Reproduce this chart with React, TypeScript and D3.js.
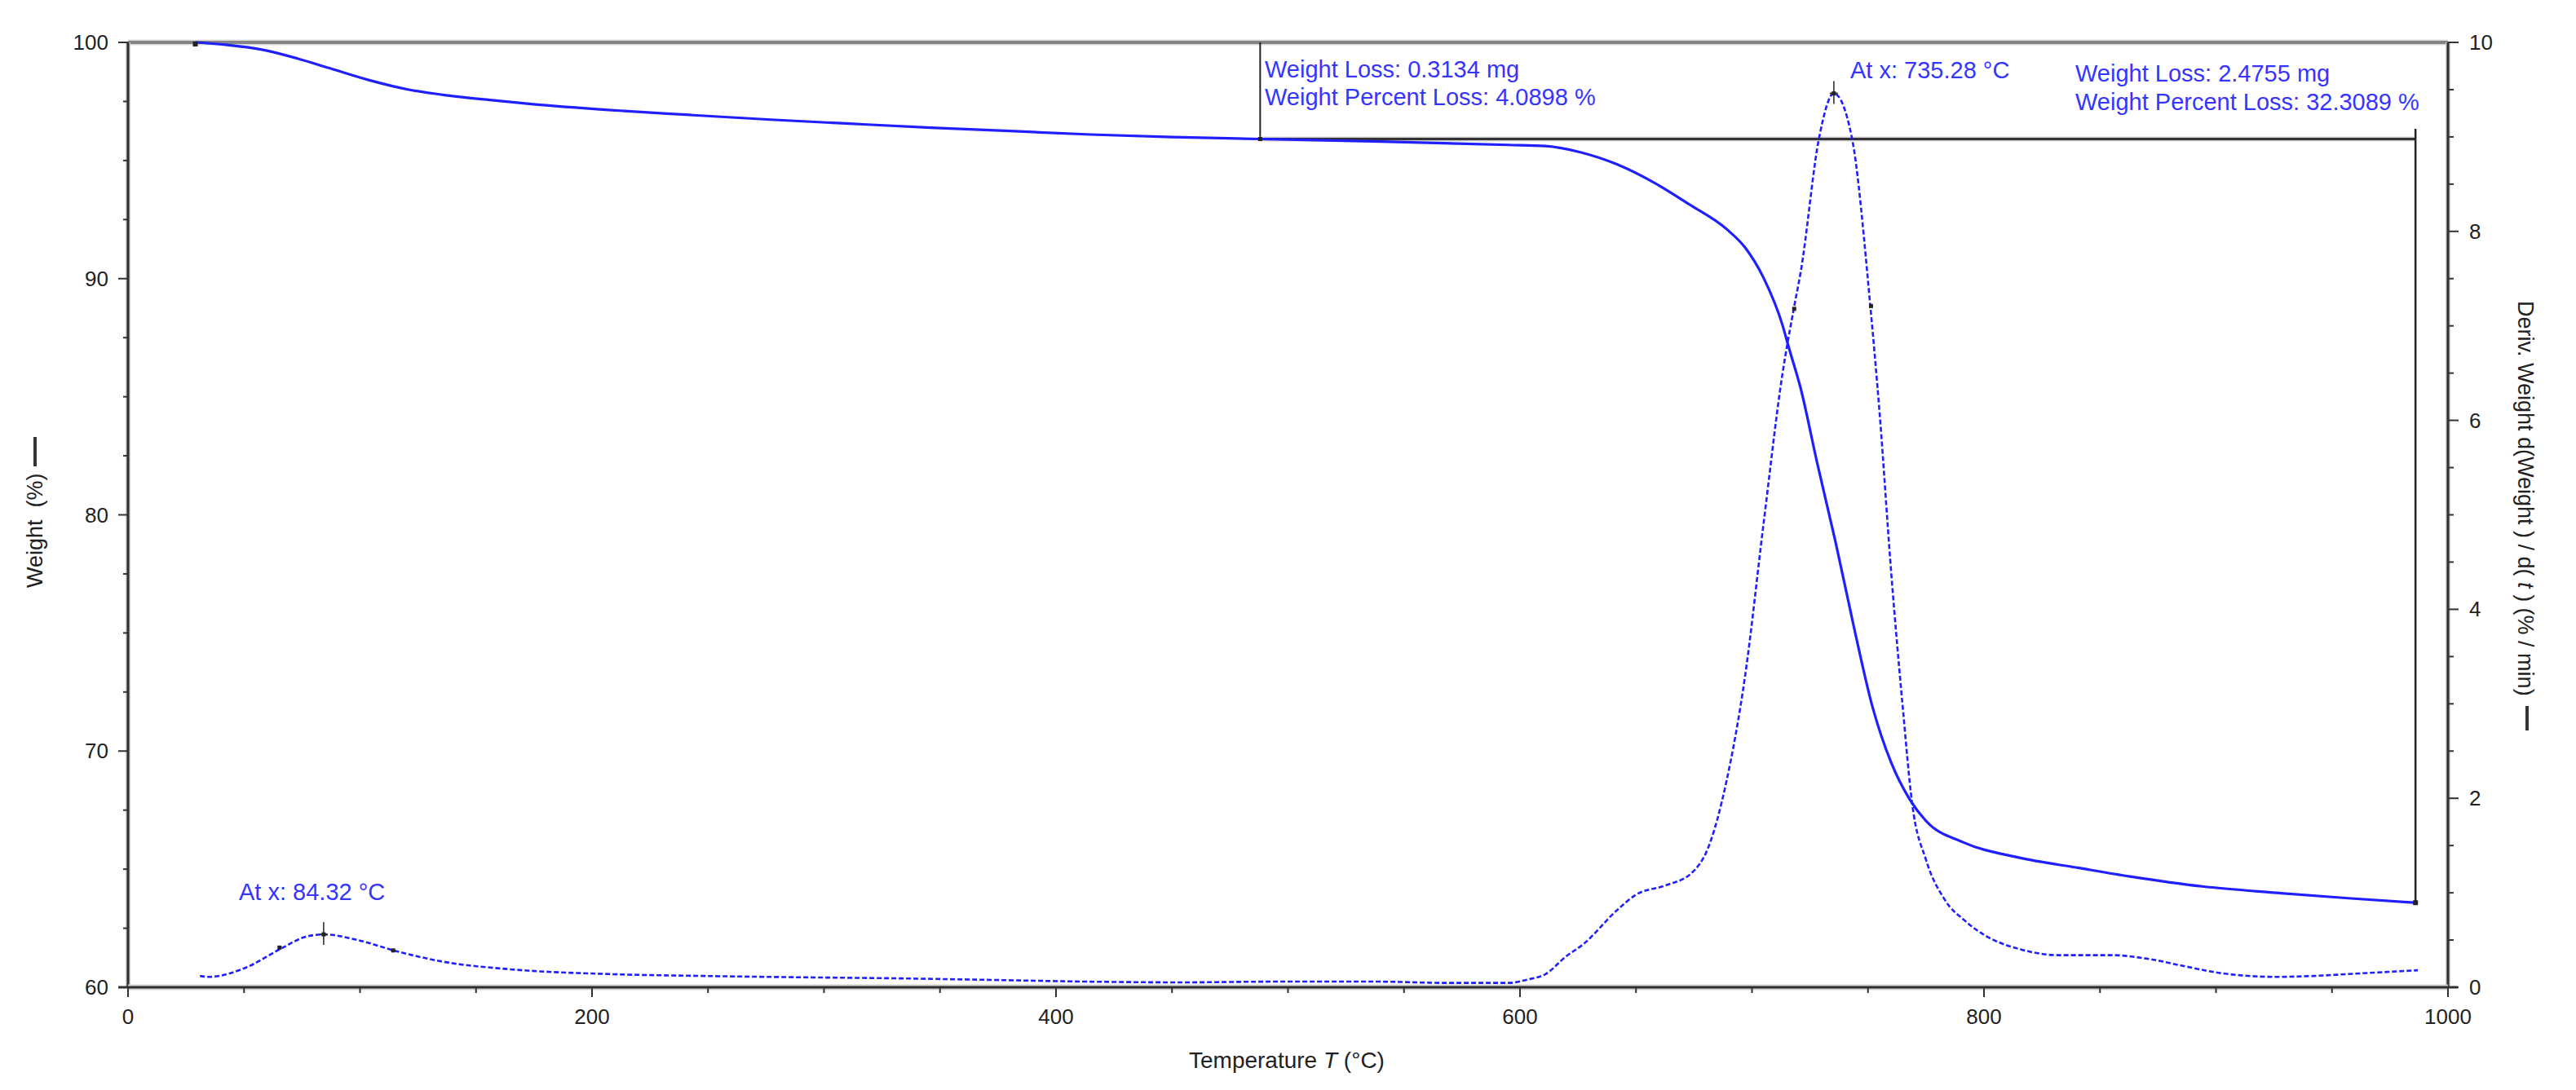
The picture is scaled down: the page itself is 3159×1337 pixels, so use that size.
import React from 'react';
import * as d3 from 'd3';

// ---- data ----
const tempW = [29, 42, 59, 73, 86.5, 104, 121, 138, 156, 173, 207, 242, 277, 311, 346, 380, 415, 450, 488, 540, 595, 611, 626, 642, 658, 673, 689, 697, 705, 713, 716, 721, 728, 736, 744, 752, 760, 768, 775, 791, 815, 841, 863, 894, 926, 957, 986];
const weightPct = [100, 99.9, 99.67, 99.32, 98.92, 98.4, 98.0, 97.75, 97.56, 97.4, 97.14, 96.93, 96.73, 96.56, 96.39, 96.25, 96.1, 95.99, 95.91, 95.8, 95.66, 95.61, 95.35, 94.83, 94.05, 93.14, 92.1, 91.32, 90.03, 88.08, 87.04, 85.35, 82.24, 78.86, 75.22, 71.85, 69.51, 67.95, 67.04, 66.14, 65.49, 65.05, 64.69, 64.27, 64.0, 63.77, 63.58];

const tempD = [31, 35, 50, 66, 76, 84.32, 99, 116, 136, 165, 207, 248, 289, 330, 372, 413, 454, 496, 537, 570, 595, 603, 611, 620, 627, 642, 650, 663, 674, 681, 689, 697, 705, 713, 718, 721, 729, 735.28, 743, 751, 755, 760, 765, 769, 775, 783, 792, 800, 816, 832, 855, 871, 887, 902, 926, 942, 957, 987];
const derivRate = [0.12, 0.11, 0.2, 0.41, 0.53, 0.56, 0.5, 0.38, 0.27, 0.19, 0.14, 0.12, 0.106, 0.095, 0.078, 0.06, 0.052, 0.06, 0.06, 0.046, 0.046, 0.08, 0.14, 0.33, 0.45, 0.82, 0.98, 1.08, 1.21, 1.47, 2.18, 3.29, 4.91, 6.47, 7.18, 7.57, 9.0, 9.46, 9.0, 7.21, 6.08, 4.39, 2.96, 1.95, 1.35, 0.93, 0.7, 0.555, 0.4, 0.34, 0.34, 0.3, 0.22, 0.15, 0.11, 0.12, 0.14, 0.18];

const xTickValues = [0, 200, 400, 600, 800, 1000];
const yLeftTickValues = [60, 70, 80, 90, 100];
const yRightTickValues = [0, 2, 4, 6, 8, 10];

const peakTemps = [84.32, 735.28];
const peakRates = [0.56, 9.46];
const halfTemps = [65.3, 114.3, 718.2, 751.3];
const halfRates = [0.42, 0.39, 7.18, 7.21];

const stepStartT = 488;
const stepLevelW = 95.91;
const stepEndT = 986;
const stepEndW = 63.58;
const stepTopW = 96.34;

const BLUE = '#1f1fff';
const TEXT_BLUE = '#3535ff';
const FONT = '"Liberation Sans", Arial, Helvetica, sans-serif';

export default function App() {
  const W = 3159, H = 1337;
  const L = 157, R = 3002, T = 52, B = 1211;
  const x = d3.scaleLinear().domain([0, 1000]).range([L, R]);
  const yW = d3.scaleLinear().domain([60, 100]).range([B, T]);
  const yD = d3.scaleLinear().domain([0, 10]).range([B, T]);

  const weightLine = d3.line<number>()
    .x((_, i) => x(tempW[i]))
    .y((d) => yW(d))
    .curve(d3.curveMonotoneX);
  const derivLine = d3.line<number>()
    .x((_, i) => x(tempD[i]))
    .y((d) => yD(d))
    .curve(d3.curveMonotoneX);

  const xMinor = d3.range(0, 1001, 50).filter((v) => v % 200 !== 0);
  const yLMinor = d3.range(60, 100.01, 2.5).filter((v) => v % 10 !== 0);
  const yRMinor = d3.range(0, 10.01, 0.5).filter((v) => Math.abs(v % 2) > 1e-6);

  const tickFont = 26;
  const annFont = 29;

  return (
    <svg width={W} height={H} style={{ position: 'absolute', left: 0, top: 0, background: '#fff' }} fontFamily={FONT}>
      <rect x={0} y={0} width={W} height={H} fill="#fff" />

      {/* frame with halo */}
      <g>
        <line x1={L} x2={R} y1={T} y2={T} stroke="#dcdcdc" strokeWidth={7} />
        <line x1={L} x2={R} y1={T} y2={T} stroke="#858585" strokeWidth={4} />
        <line x1={L} x2={L} y1={T} y2={B} stroke="#cfcfcf" strokeWidth={6} />
        <line x1={L} x2={L} y1={T} y2={B} stroke="#2e2e2e" strokeWidth={3} />
        <line x1={R} x2={R} y1={T} y2={B} stroke="#cfcfcf" strokeWidth={6} />
        <line x1={R} x2={R} y1={T} y2={B} stroke="#2e2e2e" strokeWidth={3} />
        <line x1={L} x2={R} y1={B} y2={B} stroke="#cfcfcf" strokeWidth={7} />
        <line x1={L - 12} x2={R + 12} y1={B} y2={B} stroke="#2e2e2e" strokeWidth={3} />
      </g>

      {/* bottom ticks */}
      <g stroke="#333" strokeWidth={2}>
        {xTickValues.map((v) => (
          <line key={'xt' + v} x1={x(v)} x2={x(v)} y1={B} y2={B + 12} />
        ))}
        {xMinor.map((v) => (
          <line key={'xm' + v} x1={x(v)} x2={x(v)} y1={B} y2={B + 7} />
        ))}
      </g>
      <g fontSize={tickFont} fill="#222" textAnchor="middle">
        {xTickValues.map((v) => (
          <text key={'xl' + v} x={x(v)} y={1256}>{v}</text>
        ))}
      </g>

      {/* left ticks */}
      <g stroke="#333" strokeWidth={2}>
        {yLeftTickValues.map((v) => (
          <line key={'yl' + v} x1={L - 12} x2={L} y1={yW(v)} y2={yW(v)} />
        ))}
        {yLMinor.map((v) => (
          <line key={'ylm' + v} x1={L - 6} x2={L} y1={yW(v)} y2={yW(v)} />
        ))}
      </g>
      <g fontSize={tickFont} fill="#222" textAnchor="end">
        {yLeftTickValues.map((v) => (
          <text key={'yll' + v} x={133} y={yW(v) + 9}>{v}</text>
        ))}
      </g>

      {/* right ticks */}
      <g stroke="#333" strokeWidth={2}>
        {yRightTickValues.map((v) => (
          <line key={'yr' + v} x1={R} x2={R + 13} y1={yD(v)} y2={yD(v)} />
        ))}
        {yRMinor.map((v) => (
          <line key={'yrm' + v} x1={R} x2={R + 7} y1={yD(v)} y2={yD(v)} />
        ))}
      </g>
      <g fontSize={tickFont} fill="#222" textAnchor="start">
        {yRightTickValues.map((v) => (
          <text key={'yrl' + v} x={3028} y={yD(v) + 9}>{v}</text>
        ))}
      </g>

      {/* axis titles */}
      <text x={1458} y={1310} fontSize={28} fill="#222">
        Temperature <tspan fontStyle="italic">T</tspan> (°C)
      </text>
      <text transform="translate(52,721) rotate(-90)" fontSize={27} fill="#222">
        {'Weight\u00a0\u00a0(%)'}
      </text>
      <line x1={43} x2={43} y1={572} y2={536} stroke="#333" strokeWidth={4} />
      <text transform="translate(3088,369) rotate(90)" fontSize={27} fill="#222">
        {'Deriv. Weight d(Weight ) / d( '}<tspan fontStyle="italic">t</tspan>{' ) (% / min)'}
      </text>
      <line x1={3099} x2={3099} y1={866} y2={896} stroke="#333" strokeWidth={4} />

      {/* step transition bracket */}
      <g>
        <line x1={x(stepStartT)} x2={x(stepStartT)} y1={T} y2={yW(stepLevelW)} stroke="#222" strokeWidth={2} />
        <line x1={x(stepStartT)} x2={x(stepEndT)} y1={yW(stepLevelW)} y2={yW(stepLevelW)} stroke="#cfcfcf" strokeWidth={6} />
        <line x1={x(stepStartT)} x2={x(stepEndT)} y1={yW(stepLevelW)} y2={yW(stepLevelW)} stroke="#333" strokeWidth={3} />
        <line x1={x(stepEndT)} x2={x(stepEndT)} y1={yW(stepTopW)} y2={yW(stepEndW)} stroke="#222" strokeWidth={2.5} />
      </g>

      {/* curves */}
      <path d={weightLine(weightPct) || ''} fill="none" stroke={BLUE} strokeWidth={3.2} strokeLinejoin="round" />
      <path d={derivLine(derivRate) || ''} fill="none" stroke={BLUE} strokeWidth={2.6} strokeDasharray="6,3" />

      {/* markers */}
      <rect x={x(tempW[0]) - 3} y={yW(weightPct[0]) - 1} width={6} height={6} fill="#222" />
      <rect x={x(stepStartT) - 2.5} y={yW(stepLevelW) - 2.5} width={5} height={5} fill="#222" />
      <rect x={x(stepEndT) - 3} y={yW(stepEndW) - 3} width={6} height={6} fill="#222" />
      {halfTemps.map((t, i) => (
        <rect key={'hm' + i} x={x(t) - 2.5} y={yD(halfRates[i]) - 2.5} width={5} height={5} fill="#222" />
      ))}
      {peakTemps.map((t, i) => (
        <g key={'pk' + i} stroke="#333">
          <line x1={x(t)} x2={x(t)} y1={yD(peakRates[i]) - 15} y2={yD(peakRates[i]) + 13} strokeWidth={1.6} />
          <line x1={x(t) - 5} x2={x(t) + 5} y1={yD(peakRates[i])} y2={yD(peakRates[i])} strokeWidth={2} />
          <rect x={x(t) - 2.5} y={yD(peakRates[i]) - 2.5} width={5} height={5} fill="#222" stroke="none" />
        </g>
      ))}

      {/* annotations */}
      <g fontSize={annFont} fill={TEXT_BLUE}>
        <text x={1551} y={95}>Weight Loss: 0.3134 mg</text>
        <text x={1551} y={129}>Weight Percent Loss: 4.0898 %</text>
        <text x={2269} y={96}>At x: 735.28 °C</text>
        <text x={2545} y={100}>Weight Loss: 2.4755 mg</text>
        <text x={2545} y={135}>Weight Percent Loss: 32.3089 %</text>
        <text x={293} y={1104}>At x: 84.32 °C</text>
      </g>
    </svg>
  );
}
